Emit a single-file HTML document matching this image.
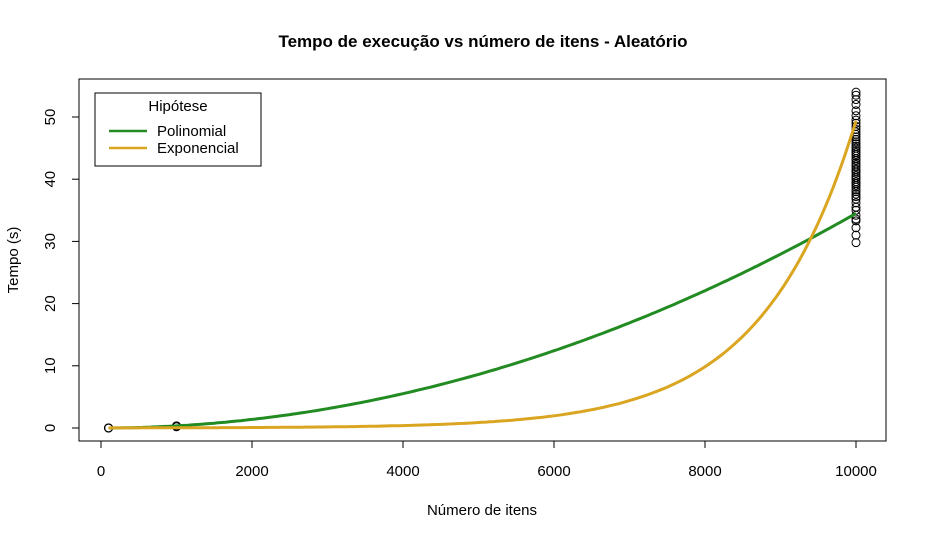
<!DOCTYPE html>
<html><head><meta charset="utf-8"><style>
body{margin:0;background:#fff}
text{font-family:"Liberation Sans",sans-serif;fill:#000}
</style></head><body>
<svg id="c" width="927" height="540" xmlns="http://www.w3.org/2000/svg">
<text x="483" y="47" text-anchor="middle" font-size="17" font-weight="bold">Tempo de execução vs número de itens - Aleatório</text>
<rect x="79" y="79" width="807" height="362" fill="none" stroke="#000"/>
<text x="482" y="515" text-anchor="middle" font-size="15">Número de itens</text>
<text transform="translate(18,260) rotate(-90)" text-anchor="middle" font-size="15">Tempo (s)</text>
<g id="ax"></g><g id="pts"></g><g id="curves"></g>
<g>
<rect x="95" y="93" width="166" height="73" fill="#fff" stroke="#000"/>
<text x="178" y="111" text-anchor="middle" font-size="15">Hipótese</text>
<line x1="109" y1="131" x2="147" y2="131" stroke="#228B22" stroke-width="2.5"/>
<text x="157" y="136" font-size="15">Polinomial</text>
<line x1="109" y1="148" x2="147" y2="148" stroke="#DAA520" stroke-width="2.5"/>
<text x="157" y="153" font-size="15">Exponencial</text>
</g>
</svg>
<script>
const xTicks=[0,2000,4000,6000,8000,10000];
const yTicks=[0,10,20,30,40,50];
const ptX100=[100,100,100,100,100];
const ptY100=[0.003,0.004,0.003,0.005,0.004];
const ptX1000=[1000,1000,1000,1000];
const ptY1000=[0.2,0.25,0.3,0.35];
const ptY10000=[29.8,31,32.2,33.3,33.6,34.2,35,35.5,36.2,36.8,37.2,37.6,38,38.3,38.7,39,39.3,39.6,40,40.3,40.6,41,41.3,41.6,42,42.3,42.6,43,43.3,43.7,44,44.3,44.6,45,45.3,45.7,46,46.4,46.8,47.2,47.6,48,48.5,49,49.5,50.2,51,52,52.8,53.5,54];
const polyCoef=[34.5,2];      // y = a*(x/10000)^p
const expCoef=[0.0156,0.000806]; // y = a*exp(b*x)
const X=v=>101+v*0.0755, Y=v=>428-v*6.22;
const NS="http://www.w3.org/2000/svg";
function mk(t,a,p){const e=document.createElementNS(NS,t);for(const k in a)e.setAttribute(k,a[k]);p.appendChild(e);return e;}
const ax=document.getElementById('ax');
mk('line',{x1:X(0),y1:441,x2:X(10000),y2:441,stroke:'#000'},ax);
xTicks.forEach(v=>{mk('line',{x1:X(v),y1:441,x2:X(v),y2:448,stroke:'#000'},ax);
const t=mk('text',{x:X(v),y:476,'text-anchor':'middle','font-size':15},ax);t.textContent=v;

});
mk('line',{x1:79,y1:Y(0),x2:79,y2:Y(50),stroke:'#000'},ax);
yTicks.forEach(v=>{mk('line',{x1:72,y1:Y(v),x2:79,y2:Y(v),stroke:'#000'},ax);
const t=mk('text',{transform:`translate(55,${Y(v)}) rotate(-90)`,'text-anchor':'middle','font-size':15},ax);t.textContent=v;

});
const cg=document.getElementById('curves');
function curve(f,col,name){let d='';for(let x=100;x<=10000;x+=50)d+=(d?'L':'M')+X(x).toFixed(1)+','+Y(f(x)).toFixed(1);
const p=mk('path',{d:d,fill:'none',stroke:col,'stroke-width':3},cg);

}
curve(x=>polyCoef[0]*Math.pow(x/10000,polyCoef[1]),'#228B22','polinomial-curve');
curve(x=>expCoef[0]*Math.exp(expCoef[1]*x),'#DAA520','exponencial-curve');
const pg=document.getElementById('pts');
function pt(x,y){const c=mk('circle',{cx:X(x),cy:Y(y),r:4,fill:'none',stroke:'#000','stroke-width':1},pg);

}
ptX100.forEach((x,i)=>pt(x,ptY100[i]));
ptX1000.forEach((x,i)=>pt(x,ptY1000[i]));
ptY10000.forEach(y=>pt(10000,y));
</script>
</body></html>
